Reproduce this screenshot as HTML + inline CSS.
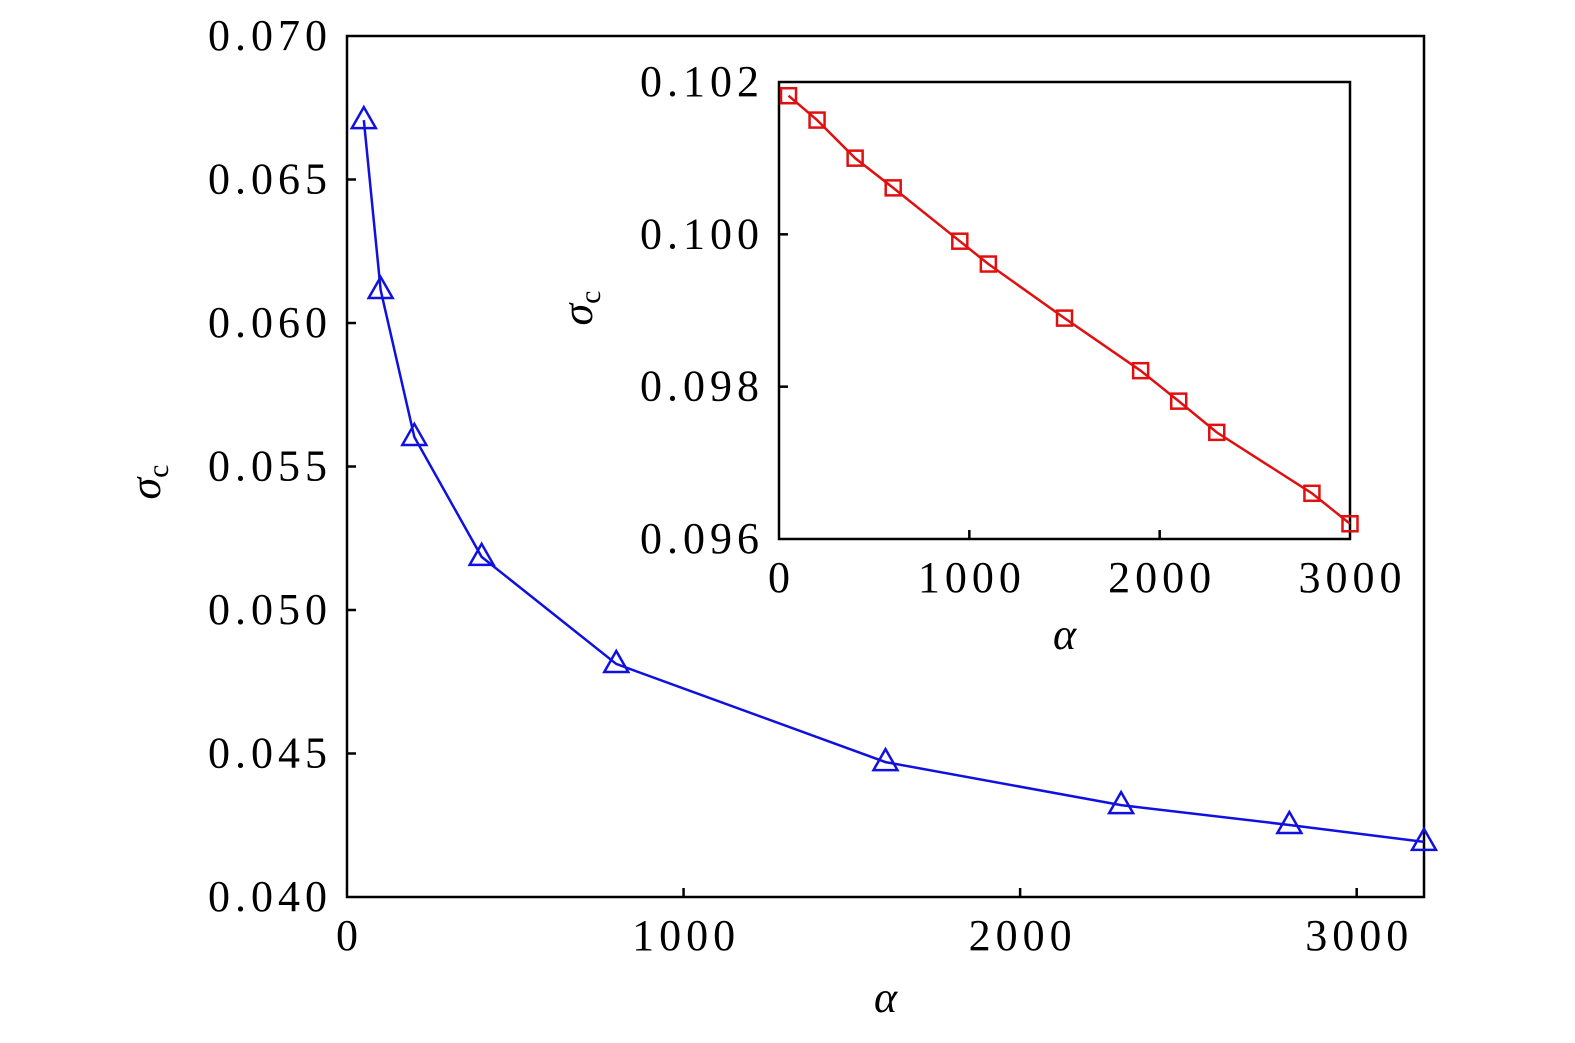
<!DOCTYPE html>
<html><head><meta charset="utf-8"><style>
html,body{margin:0;padding:0;background:#fff;}
svg{display:block;font-family:"Liberation Serif","DejaVu Serif",serif;}
</style></head><body>
<svg id="chart" width="1575" height="1043" viewBox="0 0 1575 1043" xmlns="http://www.w3.org/2000/svg"></svg>
<script>
const mainAlpha = [50, 100, 200, 400, 800, 1600, 2300, 2800, 3200];
const mainSigma = [0.06707, 0.06115, 0.05603, 0.05185, 0.04812, 0.0447, 0.0432, 0.04251, 0.04192];
const mainXTicks = [0, 1000, 2000, 3000];
const mainYTicks = [0.040, 0.045, 0.050, 0.055, 0.060, 0.065, 0.070];
const insetAlpha = [50, 200, 400, 600, 950, 1100, 1500, 1900, 2100, 2300, 2800, 3000];
const insetSigma = [0.10182, 0.1015, 0.1010, 0.10061, 0.09991, 0.09961, 0.0989, 0.09821, 0.09781, 0.0974, 0.0966, 0.0962];
const insetXTicks = [0, 1000, 2000, 3000];
const insetYTicks = [0.096, 0.098, 0.100, 0.102];

const NS = "http://www.w3.org/2000/svg";
const svg = document.getElementById('chart');
function mk(tag, attrs, parent){const e=document.createElementNS(NS,tag);for(const k in attrs)e.setAttribute(k,attrs[k]);(parent||svg).appendChild(e);return e;}
const FS = 44, LS = 5;

function drawPanel(cfg){
  const g = mk('g',{});
  
  
  const sx = v => cfg.x0 + (v - cfg.xmin)/(cfg.xmax - cfg.xmin)*(cfg.x1 - cfg.x0);
  const sy = v => cfg.y0 - (v - cfg.ymin)/(cfg.ymax - cfg.ymin)*(cfg.y0 - cfg.y1);
  const frame = mk('rect',{x:cfg.x0,y:cfg.y1,width:cfg.x1-cfg.x0,height:cfg.y0-cfg.y1,fill:'none',stroke:'#000','stroke-width':2.5},g);
  
  
  cfg.xt.forEach(t=>{
    const x=sx(t);
    if(t>cfg.xmin && t<cfg.xmax) mk('line',{x1:x,x2:x,y1:cfg.y0,y2:cfg.y0-9,stroke:'#000','stroke-width':2.5},g);
    const tx=mk('text',{x:x+LS/2,y:cfg.y0+53,'text-anchor':'middle','font-size':FS,'letter-spacing':LS},g);
    tx.textContent=t;
    
    
  });
  cfg.yt.forEach(t=>{
    const y=sy(t);
    if(t>cfg.ymin && t<cfg.ymax) mk('line',{x1:cfg.x0,x2:cfg.x0+9,y1:y,y2:y,stroke:'#000','stroke-width':2.5},g);
    const tx=mk('text',{x:cfg.x0-20+LS,y:y+14,'text-anchor':'end','font-size':FS,'letter-spacing':LS},g);
    tx.textContent=t.toFixed(3);
    
    
  });
  const pts = cfg.xs.map((v,i)=>sx(v)+','+sy(cfg.ys[i])).join(' ');
  const line = mk('polyline',{points:pts,fill:'none',stroke:cfg.color,'stroke-width':2.5},g);
  
  
  cfg.xs.forEach((v,i)=>{
    const x=sx(v), y=sy(cfg.ys[i]);
    let m;
    if(cfg.marker==='tri'){
      m=mk('polygon',{points:`${x},${y-13} ${x-12},${y+8} ${x+12},${y+8}`,fill:'none',stroke:cfg.color,'stroke-width':2.5},g);
    } else {
      m=mk('rect',{x:x-7.5,y:y-7.5,width:15,height:15,fill:'none',stroke:cfg.color,'stroke-width':2.5},g);
    }
    
    
  });
  const xl=mk('text',{x:(cfg.x0+cfg.x1)/2,y:cfg.y0+cfg.xlabOff,'text-anchor':'middle','font-size':FS,'font-style':'italic'},g);
  xl.textContent='α';
  
  
  const yl=mk('text',{transform:`translate(${cfg.ylabX},${cfg.ylabY}) rotate(-90)`,'text-anchor':'middle','font-size':FS,'font-style':'italic'},g);
  yl.innerHTML='σ<tspan font-style="normal" font-size="30" dy="8">c</tspan>';
  
  
}

drawPanel({name:'main-plot',x0:347,x1:1424,y0:897,y1:36,xmin:0,xmax:3200,ymin:0.040,ymax:0.070,
  xt:mainXTicks,yt:mainYTicks,xs:mainAlpha,ys:mainSigma,color:'#1010e0',marker:'tri',xlabOff:115,ylabX:160,ylabY:482});
drawPanel({name:'inset-plot',x0:779,x1:1350,y0:539,y1:82,xmin:0,xmax:3000,ymin:0.096,ymax:0.102,
  xt:insetXTicks,yt:insetYTicks,xs:insetAlpha,ys:insetSigma,color:'#e01010',marker:'sq',xlabOff:110,ylabX:592,ylabY:308});
</script>
</body></html>
